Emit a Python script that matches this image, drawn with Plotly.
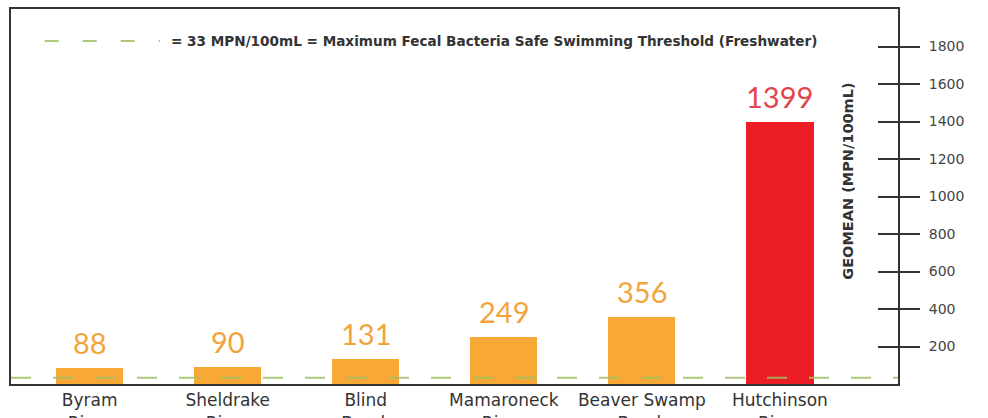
import plotly.graph_objects as go

categories = ["Byram<br>River", "Sheldrake<br>River", "Blind<br>Brook",
              "Mamaroneck<br>River", "Beaver Swamp<br>Brook", "Hutchinson<br>River"]
geomean = [88, 90, 131, 249, 356, 1399]
threshold = 33
tick_values = [200, 400, 600, 800, 1000, 1200, 1400, 1600, 1800]
legend_text = "= 33 MPN/100mL = Maximum Fecal Bacteria Safe Swimming Threshold (Freshwater)"
axis_title = "GEOMEAN (MPN/100mL)"

ORANGE = "#f8a935"
RED = "#ec1d25"
bar_colors = [RED if v > 1000 else ORANGE for v in geomean]
label_colors = ["#e5434a" if v > 1000 else "#f2a43c" for v in geomean]
DARK = "#333333"
GREEN = "rgba(160,190,100,0.85)"

fig = go.Figure()
fig.add_trace(go.Bar(
    x=categories, y=geomean, marker=dict(color=bar_colors, line=dict(width=0)),
    width=0.486, showlegend=False, hoverinfo="skip",
))
# dummy trace to anchor the inside-tick overlay axis
fig.add_trace(go.Scatter(x=[categories[0]], y=[None], yaxis="y2", showlegend=False,
                         hoverinfo="skip"))

for c, v, col in zip(categories, geomean, label_colors):
    fig.add_annotation(x=c, y=v, text=str(v), showarrow=False, yanchor="bottom",
                       yshift=6, font=dict(family="Lato", size=29, color=col))

# threshold line across plot
fig.add_shape(type="line", xref="paper", yref="y", x0=0, x1=1, y0=threshold, y1=threshold,
              line=dict(color=GREEN, width=2, dash="20px,22px"), layer="above")
# legend sample
fig.add_shape(type="line", xref="paper", yref="paper", x0=0.038, x1=0.168, y0=0.915, y1=0.915,
              line=dict(color=GREEN, width=2, dash="14px,24px"), layer="above")
fig.add_annotation(xref="paper", yref="paper", x=0.178, y=0.915, xanchor="left",
                   yanchor="middle", text=legend_text, showarrow=False,
                   font=dict(family="DejaVu Sans", size=13.6, color=DARK, weight="bold"))
fig.add_annotation(xref="paper", yref="paper", x=0.954, y=0.54, textangle=-90,
                   text=axis_title, showarrow=False,
                   font=dict(family="DejaVu Sans", size=14.5, color=DARK, weight="bold"))

fig.update_layout(
    width=988, height=418,
    margin=dict(l=11, r=90, t=9, b=34),
    paper_bgcolor="white", plot_bgcolor="white",
    bargap=0,
    xaxis=dict(range=[-0.57, 5.855], showline=True, linecolor=DARK, linewidth=2, mirror=True,
               showgrid=False, zeroline=False, ticks="", automargin=False,
               tickfont=dict(family="DejaVu Sans", size=17, color=DARK)),
    yaxis=dict(range=[0, 2000], side="right", showline=True, linecolor=DARK, linewidth=2,
               mirror=True, showgrid=False, zeroline=False, ticks="outside", ticklen=20,
               tickwidth=2, tickcolor=DARK, tickvals=tick_values, ticklabelstandoff=6,
               tickformat="d", automargin=False,
               tickfont=dict(family="DejaVu Sans", size=14, color="#444444")),
    yaxis2=dict(range=[0, 2000], overlaying="y", side="right", showline=False,
                showgrid=False, zeroline=False, ticks="inside", ticklen=20, tickwidth=2,
                tickcolor=DARK, tickvals=tick_values, showticklabels=False,
                automargin=False),
)

fig.write_html("out.html")
